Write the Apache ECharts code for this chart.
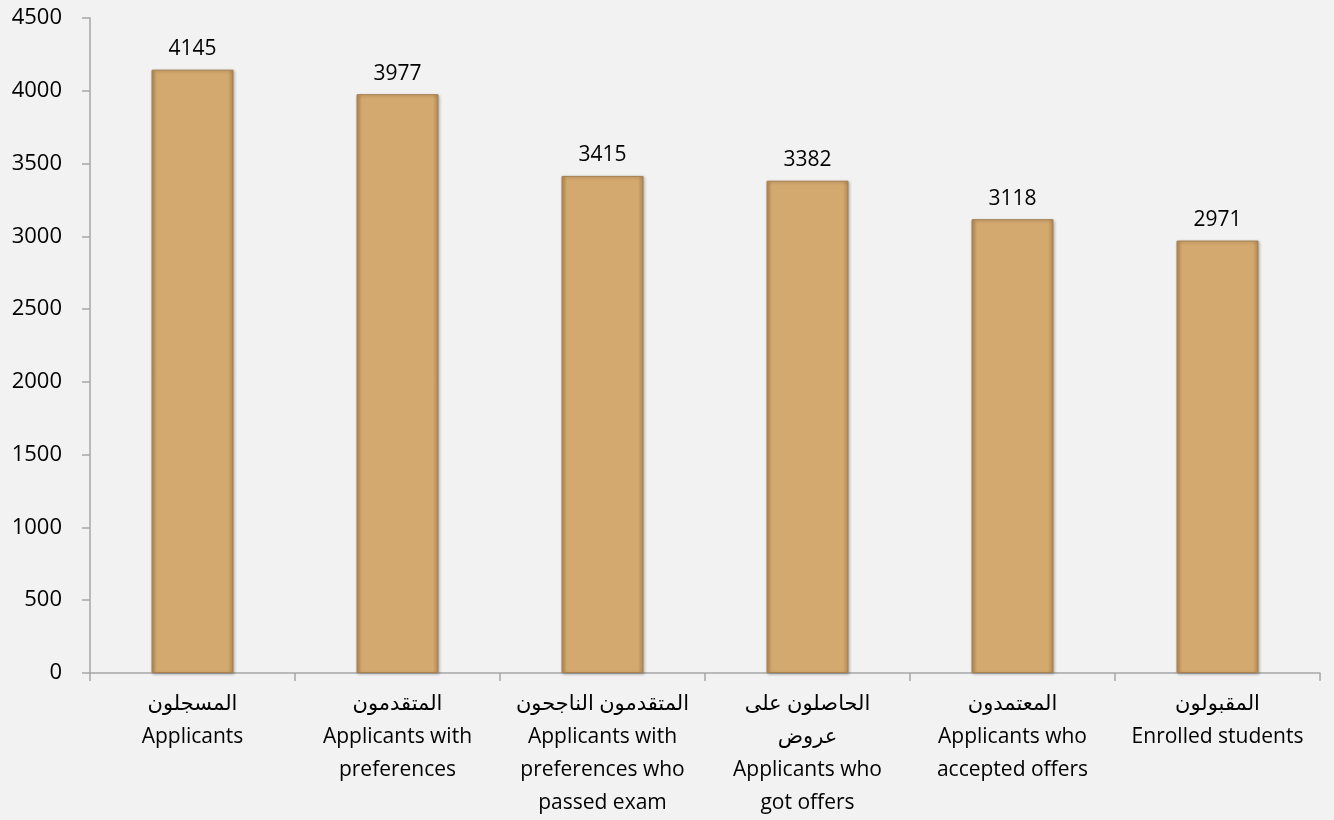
<!DOCTYPE html>
<html>
<head>
<meta charset="utf-8">
<script src="https://cdn.jsdelivr.net/npm/echarts@6/dist/echarts.min.js"></script>
<style>
  html, body { margin: 0; padding: 0; background: #f2f2f2; }
  #main { width: 1334px; height: 820px; }
</style>
</head>
<body>
<div id="main"></div>
<script>
// categories (Arabic line + English lines)
var categories = [
    'المسجلون\nApplicants',
    'المتقدمون\nApplicants with\npreferences',
    'المتقدمون الناجحون\nApplicants with\npreferences who\npassed exam',
    'الحاصلون على\nعروض\nApplicants who\ngot offers',
    'المعتمدون\nApplicants who\naccepted offers',
    'المقبولون\nEnrolled students'
];
var counts = [4145, 3977, 3415, 3382, 3118, 2971];
var yTicks = [0, 500, 1000, 1500, 2000, 2500, 3000, 3500, 4000, 4500];

var fontFam = "'Open Sans', 'DejaVu Sans', sans-serif";
var axisGrey = '#a6a6a6';

var option = {
    backgroundColor: '#f2f2f2',
    animation: false,
    grid: { left: 90, right: 14, top: 18, bottom: 147 },
    xAxis: {
        type: 'category',
        data: categories,
        axisLine: { lineStyle: { color: axisGrey, width: 1.5 } },
        axisTick: { show: true, length: 8, lineStyle: { color: axisGrey, width: 1.5 } },
        axisLabel: {
            interval: 0,
            color: '#000',
            fontSize: 21,
            fontFamily: fontFam,
            lineHeight: 33,
            margin: 15
        }
    },
    yAxis: {
        type: 'value',
        min: yTicks[0],
        max: yTicks[yTicks.length - 1],
        interval: 500,
        splitLine: { show: false },
        axisLine: { show: true, lineStyle: { color: axisGrey, width: 1.5 } },
        axisTick: { show: true, length: 8, lineStyle: { color: axisGrey, width: 1.5 } },
        axisLabel: {
            color: '#000', fontSize: 22, fontFamily: fontFam, margin: 28,
            formatter: function (v) { return String(v); }
        }
    },
    series: [
        {
            type: 'bar',
            data: counts,
            barWidth: '40%',
            itemStyle: {
                color: new echarts.graphic.LinearGradient(0, 0, 1, 0, [
                    { offset: 0, color: '#b38a55' },
                    { offset: 0.07, color: '#d4a96f' },
                    { offset: 0.93, color: '#d4a96f' },
                    { offset: 1, color: '#b38a55' }
                ]),
                borderColor: '#a88150',
                borderWidth: 1,
                shadowColor: 'rgba(0,0,0,0.25)',
                shadowBlur: 3,
                shadowOffsetX: 1,
                shadowOffsetY: 1
            },
            label: {
                show: true,
                position: 'top',
                distance: 10,
                color: '#000',
                fontSize: 21,
                fontFamily: fontFam
            }
        }
    ]
};

var chartDom = document.getElementById('main');
var myChart = echarts.init(chartDom);
myChart.setOption(option);
</script>
</body>
</html>
